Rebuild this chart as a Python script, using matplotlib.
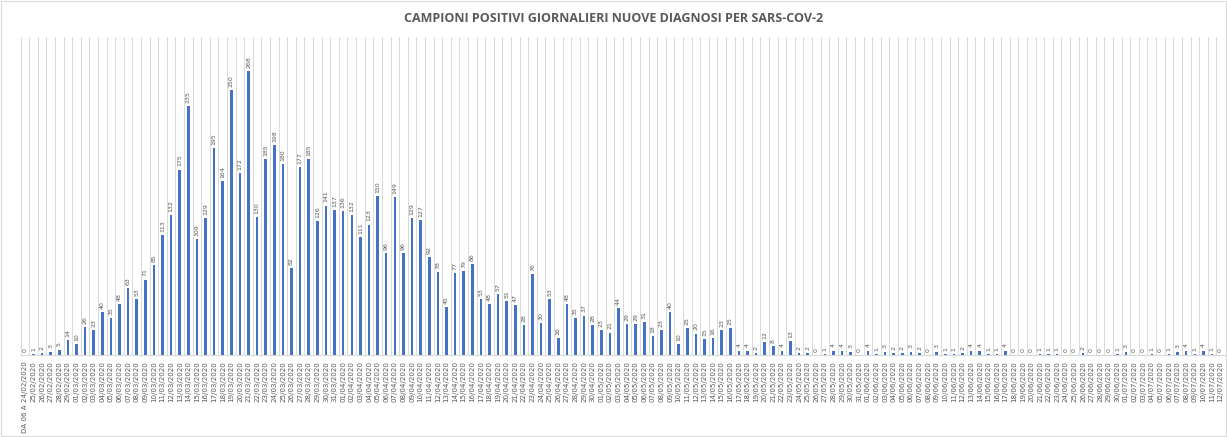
import datetime as dt
import numpy as np
import matplotlib
matplotlib.use("Agg")
import matplotlib.pyplot as plt
from matplotlib.patches import Rectangle

start = dt.date(2020, 2, 24)
n_days = 140
dates = [start + dt.timedelta(days=i) for i in range(n_days)]
labels = [d.strftime('%d/%m/%Y') for d in dates]
labels[0] = 'DA 06 A 24/02/2020'

positivi = [
    0, 1, 2, 3, 5, 14,                                   # feb
    10, 26, 23, 40, 35, 48, 63, 53, 71, 85, 113, 132, 175, 235, 109, 129,
    195, 164, 250, 172, 268, 130, 185, 198, 180, 82, 177, 185, 126, 141, 137,  # mar
    136, 132, 111, 123, 150, 96, 149, 96, 129, 127, 92, 78, 45, 77, 79, 86,
    53, 48, 57, 51, 47, 28, 76, 30, 53, 16, 48, 35, 37, 28,               # apr
    23, 21, 44, 29, 29, 31, 18, 23, 40, 10, 25, 20, 15, 16, 23, 25,
    4, 4, 2, 12, 8, 4, 13, 2, 2, 0, 1, 4, 4, 3, 0,                       # may
    4, 1, 3, 2, 2, 3, 2, 0, 3, 1, 1, 2, 4, 4, 1, 1, 4, 0, 0, 0,
    1, 1, 1, 0, 0, 2, 0, 0, 0, 1,                                        # jun
    3, 0, 0, 1, 0, 1, 3, 4, 1, 4, 1, 0,                                  # jul
]

blue = '#4472C4'
grey_txt = '#595959'

fig = plt.figure(figsize=(12.27, 4.37), dpi=100)
fig.patch.set_facecolor('white')
fig.patches.append(Rectangle((0.001, 0.002), 0.998, 0.995, transform=fig.transFigure,
                             fill=False, edgecolor='#d9d9d9', linewidth=0.8))

ax = fig.add_axes([0.0168, 0.188, 0.9815, 0.727])
x = np.arange(n_days)
ax.bar(x, positivi, width=0.3, color=blue, zorder=3)

for xi, v in zip(x, positivi):
    ax.text(xi, v + 3, str(v), rotation=90, ha='center', va='bottom',
            fontsize=4.5, color=grey_txt)

ax.set_xlim(-0.5, n_days - 0.5)
ax.set_ylim(0, 300)
ax.set_xticks(x)
ax.set_xticklabels(labels, rotation=90, fontsize=5.1, color=grey_txt)
ax.tick_params(axis='x', length=0, pad=4.5)
ax.set_yticks([])

# category gridlines between bars
for b in np.arange(-0.5, n_days, 1.0):
    ax.axvline(b, color='#d9d9d9', linewidth=0.7, zorder=1)

for s in ['top', 'left', 'right']:
    ax.spines[s].set_visible(False)
ax.spines['bottom'].set_color('#d9d9d9')
ax.spines['bottom'].set_linewidth(0.8)

fig.text(0.5, 0.957, 'CAMPIONI POSITIVI GIORNALIERI NUOVE DIAGNOSI PER SARS-COV-2',
         ha='center', va='center', fontsize=9, fontweight='bold',
         color=grey_txt, family='Open Sans')

fig.savefig('out.png', dpi=100, facecolor='white')
